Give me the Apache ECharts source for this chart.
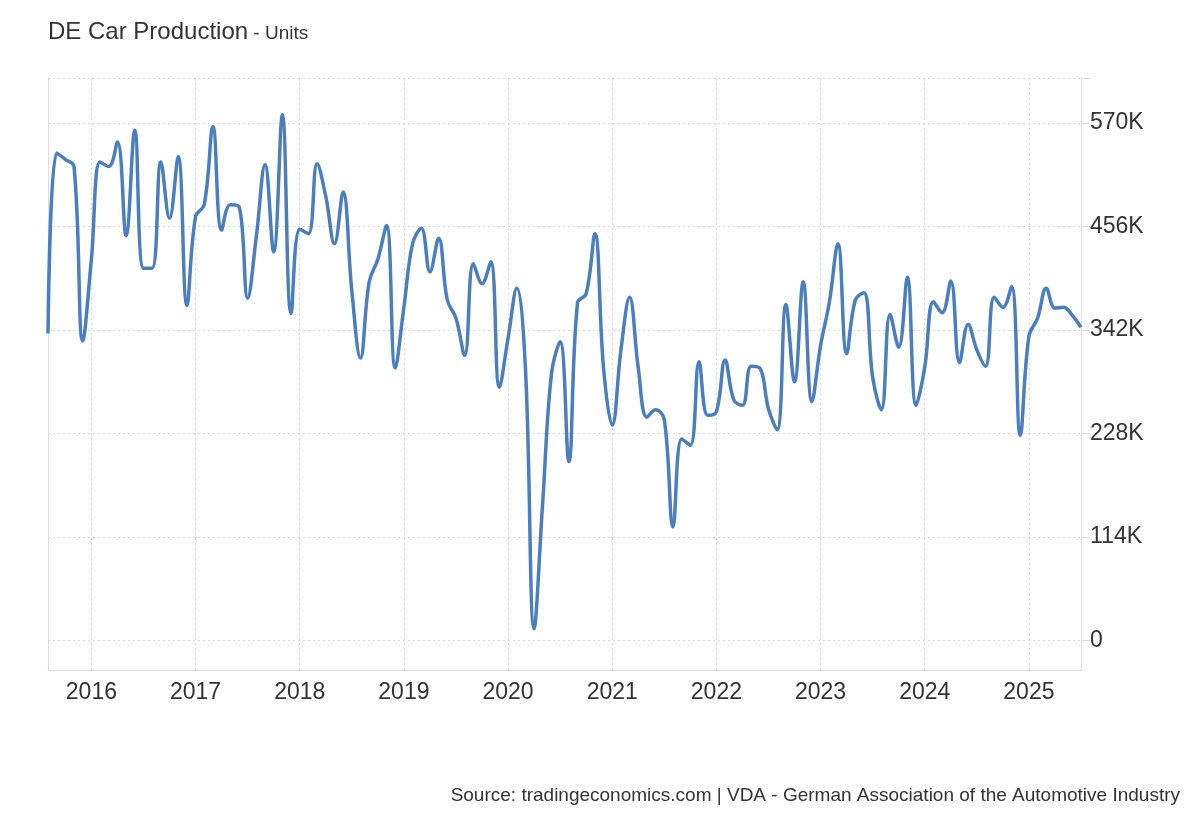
<!DOCTYPE html>
<html>
<head>
<meta charset="utf-8">
<script src="https://cdn.jsdelivr.net/npm/echarts@6/dist/echarts.min.js"></script>
<style>
html,body{margin:0;padding:0;background:#fff;}
#chart{width:1200px;height:820px;}
</style>
</head>
<body>
<div id="chart"></div>
<script>
// Monthly German car production (units), Aug 2015 - Jul 2025
const startYear = 2015;
const startMonth = 8;
const values2015 = [338000, 537000, 530000, 522000, 330000];
const values2016 = [420000, 527000, 522000, 549000, 446000, 562000, 410000, 410000, 527000, 465000, 533000, 369000];
const values2017 = [467000, 480000, 566000, 452000, 480000, 478000, 377000, 445000, 524000, 428000, 579000, 360000];
const values2018 = [453000, 448000, 525000, 489000, 437000, 494000, 385000, 311000, 395000, 420000, 457000, 300000];
const values2019 = [367000, 437000, 454000, 406000, 443000, 375000, 355000, 314000, 415000, 393000, 417000, 279000];
const values2020 = [333000, 388000, 300000, 13000, 154000, 294000, 329000, 197000, 372000, 382000, 448000, 300000];
const values2021 = [237000, 320000, 378000, 300000, 246000, 254000, 243000, 125000, 222000, 215000, 307000, 248000];
const values2022 = [252000, 309000, 265000, 259000, 302000, 300000, 255000, 232000, 370000, 285000, 395000, 263000];
const values2023 = [325000, 372000, 437000, 316000, 375000, 383000, 290000, 254000, 359000, 323000, 400000, 259000];
const values2024 = [301000, 373000, 361000, 396000, 306000, 348000, 320000, 302000, 378000, 367000, 390000, 226000];
const values2025 = [335000, 355000, 388000, 366000, 367000, 358000, 345000];

const yTickValues = [0, 114000, 228000, 342000, 456000, 570000];
const yTickLabels = ['0', '114K', '228K', '342K', '456K', '570K'];
const yMin = -32500;
const yMax = 619500;

const titleText = 'DE Car Production';
const unitText = 'Units';
const sourceText = 'Source: tradingeconomics.com | VDA - German Association of the Automotive Industry';

const values = [].concat(values2015, values2016, values2017, values2018, values2019,
  values2020, values2021, values2022, values2023, values2024, values2025);

const categories = [];
for (let i = 0; i < values.length; i++) {
  const m0 = startMonth - 1 + i;
  const y = startYear + Math.floor(m0 / 12);
  const m = (m0 % 12) + 1;
  categories.push(y + '-' + (m < 10 ? '0' + m : m));
}

const isJan = (idx) => categories[idx].slice(5) === '01';
const labelMap = {};
yTickValues.forEach((v, i) => { labelMap[v] = yTickLabels[i]; });

const chart = echarts.init(document.getElementById('chart'), null, {renderer: 'canvas'});
const font = 'Arial, "Liberation Sans", Helvetica, sans-serif';

chart.setOption({
  animation: false,
  backgroundColor: '#ffffff',
  textStyle: {fontFamily: font},
  title: {
    left: 48,
    top: 20,
    padding: 0,
    text: '{a|' + titleText + '}{b| - ' + unitText + '}',
    textStyle: {
      fontWeight: 'normal',
      rich: {
        a: {fontSize: 24, color: '#333333', fontFamily: font, fontWeight: 'normal'},
        b: {fontSize: 19, color: '#333333', fontFamily: font, fontWeight: 'normal', padding: [4, 0, 0, 0]}
      }
    }
  },
  graphic: [{
    type: 'text',
    right: 20,
    top: 786,
    style: {
      text: sourceText,
      fontSize: 19,
      fill: '#333333',
      fontFamily: font
    }
  }],
  grid: {left: 48, right: 119, top: 78, bottom: 150, containLabel: false},
  xAxis: {
    type: 'category',
    data: categories,
    boundaryGap: false,
    axisLine: {show: true, onZero: false, lineStyle: {color: '#dddddd', width: 1}},
    axisTick: {show: false},
    axisLabel: {
      interval: (idx) => isJan(idx),
      formatter: (v) => v.slice(0, 4),
      fontSize: 23,
      color: '#333333',
      margin: 11,
      fontFamily: font
    },
    splitLine: {
      show: true,
      interval: (idx) => isJan(idx),
      lineStyle: {color: '#d9d9d9', type: [2, 3], width: 1}
    }
  },
  yAxis: [{
    type: 'value',
    position: 'right',
    min: yMin,
    max: yMax,
    axisLine: {show: true, lineStyle: {color: '#dddddd', width: 1}},
    axisTick: {
      show: true,
      inside: false,
      length: 9,
      lineStyle: {color: '#dddddd'},
      customValues: yTickValues.concat([yMax])
    },
    axisLabel: {
      customValues: yTickValues,
      formatter: (v) => labelMap[v] !== undefined ? labelMap[v] : '',
      fontSize: 23,
      color: '#333333',
      margin: 9,
      fontFamily: font
    },
    splitLine: {
      show: true,
      lineStyle: {color: '#d9d9d9', type: [2, 3], width: 1}
    }
  }, {
    type: 'value',
    position: 'left',
    min: yMin,
    max: yMax,
    axisLine: {show: true, onZero: false, lineStyle: {color: '#dddddd', width: 1}},
    axisTick: {show: false},
    axisLabel: {show: false},
    splitLine: {show: false}
  }],
  series: [{
    type: 'line',
    data: values,
    yAxisIndex: 0,
    smooth: 0.4,
    showSymbol: false,
    symbol: 'none',
    lineStyle: {color: '#4a7ebf', width: 3.5},
    itemStyle: {color: '#4a7ebf'}
  }]
});
</script>
</body>
</html>
